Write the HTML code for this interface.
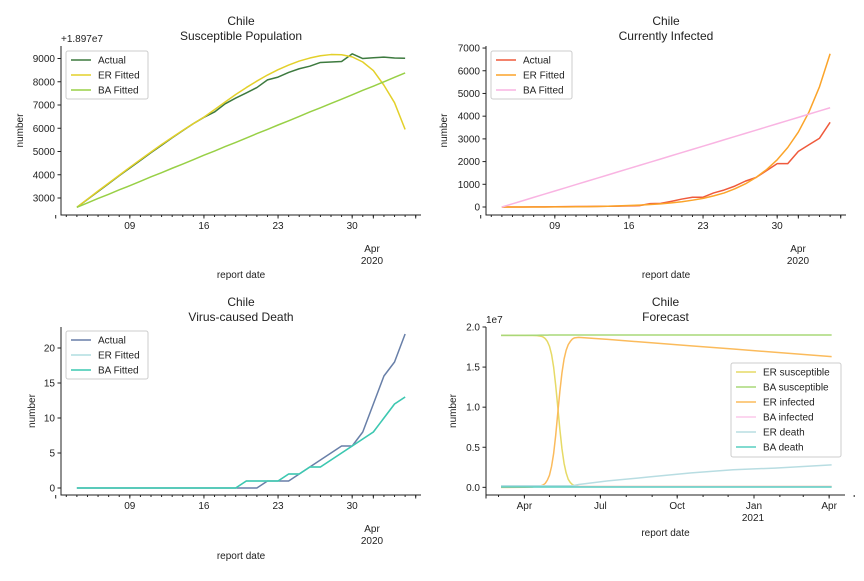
<!DOCTYPE html>
<html><head><meta charset="utf-8"><style>
body{margin:0;background:#fff}
svg text{font-family:"Liberation Sans","DejaVu Sans",sans-serif;fill:#222}
</style></head><body>
<svg id="fig" width="864" height="576" xmlns="http://www.w3.org/2000/svg"></svg>
<script>
// ---- data ----
const dayLabels = ["09","16","23","30"];
const susActual = [2600,2940,3280,3620,3960,4290,4620,4950,5270,5590,5900,6200,6470,6700,7050,7300,7520,7750,8080,8200,8400,8560,8670,8830,8850,8870,9200,9000,9030,9060,9020,9010];
const susER = [2600,2950,3300,3640,3980,4320,4650,4980,5300,5610,5910,6200,6480,6800,7130,7450,7750,8030,8290,8520,8720,8890,9020,9120,9170,9160,9070,8850,8480,7850,7100,5950];
const susBA = [2600,2790,2980,3160,3350,3530,3720,3910,4090,4280,4460,4650,4840,5020,5210,5390,5580,5770,5950,6140,6320,6510,6700,6880,7070,7250,7440,7630,7810,8000,8190,8380];
const infActual = [0,1,2,4,6,10,15,20,25,30,35,40,50,60,150,160,250,350,430,430,620,750,920,1140,1300,1600,1910,1910,2450,2740,3030,3730];
const infER = [0,0,1,2,3,5,8,12,17,25,35,50,65,85,110,140,180,230,300,380,490,620,800,1020,1300,1650,2080,2620,3300,4180,5300,6750];
const infBA = [0,141,282,423,564,705,846,987,1128,1269,1410,1551,1692,1833,1974,2115,2256,2397,2538,2679,2820,2961,3102,3243,3384,3525,3666,3807,3948,4089,4230,4370];
const deathActual = [0,0,0,0,0,0,0,0,0,0,0,0,0,0,0,0,0,0,1,1,1,2,3,4,5,6,6,8,12,16,18,22];
const deathER = [0,0,0,0,0,0,0,0,0,0,0,0,0,0,0,0,1,1,1,1,2,2,3,3,4,5,6,7,8,10,12,13];
const deathBA = [0,0,0,0,0,0,0,0,0,0,0,0,0,0,0,0,1,1,1,1,2,2,3,3,4,5,6,7,8,10,12,13];
// forecast: days relative to 2020-04-01, values in 1e7
const fcDays = [-28,0,10,15,20,22.5,25,27.5,30,32.5,35,37.5,40,42.5,45,47.5,50,52.5,55,57.5,60,65,100,150,200,250,300,368];
const fcERsus = [1.895,1.895,1.894,1.892,1.885,1.875,1.855,1.82,1.76,1.66,1.5,1.27,1.0,0.72,0.48,0.3,0.18,0.1,0.06,0.035,0.02,0.012,0.01,0.01,0.01,0.01,0.01,0.01];
const fcBAsus = [1.895,1.896,1.897,1.897,1.898,1.898,1.899,1.899,1.9,1.9,1.9,1.9,1.9,1.9,1.9,1.9,1.9,1.9,1.9,1.9,1.9,1.9,1.9,1.9,1.9,1.9,1.9,1.9];
const fcERinf = [0,0.001,0.005,0.01,0.02,0.03,0.05,0.09,0.15,0.26,0.42,0.65,0.93,1.2,1.43,1.6,1.71,1.78,1.82,1.85,1.865,1.87,1.845,1.805,1.765,1.725,1.685,1.63];
const fcBAinf = [0.01,0.01,0.01,0.01,0.01,0.01,0.01,0.01,0.01,0.01,0.01,0.01,0.01,0.01,0.01,0.01,0.01,0.01,0.01,0.01,0.01,0.01,0.01,0.01,0.01,0.01,0.01,0.01];
const fcERdeath = [0.02,0.02,0.02,0.02,0.02,0.02,0.02,0.02,0.02,0.02,0.02,0.02,0.02,0.02,0.02,0.02,0.02,0.02,0.02,0.022,0.025,0.035,0.08,0.13,0.18,0.22,0.24,0.28];
const fcBAdeath = [0.005,0.005,0.005,0.005,0.005,0.005,0.005,0.005,0.005,0.005,0.005,0.005,0.005,0.005,0.005,0.005,0.005,0.005,0.005,0.005,0.005,0.005,0.005,0.005,0.005,0.005,0.005,0.005];
const fcTickLabels = ["Apr","Jul","Oct","Jan","Apr"];
const fcTickDays = [0,91,183,275,365];

const svg=document.getElementById('fig');
const NS='http://www.w3.org/2000/svg';
function mk(tag,attrs,parent){const e=document.createElementNS(NS,tag);for(const k in attrs)e.setAttribute(k,attrs[k]);(parent||svg).appendChild(e);return e;}
function txt(s,x,y,size,anchor,parent){const t=mk('text',{x:x,y:y,'font-size':size,'text-anchor':anchor||'middle'},parent);t.textContent=s;return t;}

function panel(P){
  const g=mk('g',{});
  
  
  const sx=v=>P.x0+(v-P.xmin)/(P.xmax-P.xmin)*(P.x1-P.x0);
  const sy=v=>P.yb+(v-P.ymin)/(P.ymax-P.ymin)*(P.yt-P.yb);
  const ax=mk('path',{d:`M${P.x0},${P.yt}V${P.yb}H${P.x1}`,stroke:'#222',fill:'none','stroke-width':1},g);
  
  P.yticks.forEach((v,i)=>{const y=sy(v);mk('line',{x1:P.x0-3.5,x2:P.x0,y1:y,y2:y,stroke:'#222'},g);
    const t=txt(P.ylabels[i],P.x0-6,y+3.5,10,'end',g);});
  P.xminor.forEach(v=>{const x=sx(v);mk('line',{x1:x,x2:x,y1:P.yb,y2:P.yb+2,stroke:'#222'},g);});
  P.xmajor.forEach(v=>{const x=sx(v);mk('line',{x1:x,x2:x,y1:P.yb,y2:P.yb+3.5,stroke:'#222'},g);});
  P.xlabels.forEach((s,i)=>{const t=txt(s,sx(P.xlabelPos[i]),P.yb+14,10,'middle',g);});
  P.series.forEach(s=>{
    let d='';s.y.forEach((v,i)=>{d+=(i?'L':'M')+sx(s.x[i]).toFixed(2)+','+sy(v).toFixed(2);});
    const p=mk('path',{d:d,stroke:s.color,fill:'none','stroke-width':1.5,'stroke-linejoin':'round'},g);
    
    
  });
  txt('Chile',(P.x0+P.x1)/2,P.yt-21,12,'middle',g);
  const tt=txt(P.title,(P.x0+P.x1)/2,P.yt-6,12,'middle',g);
  const yl=mk('text',{x:0,y:0,'font-size':10,'text-anchor':'middle',transform:`translate(${P.ylx},${(P.yt+P.yb)/2}) rotate(-90)`},g);yl.textContent='number';
  
  const xl=txt('report date',(P.x0+P.x1)/2,P.xly,10,'middle',g);
  if(P.offset){const o=txt(P.offset,P.x0,P.yt-4,10,'start',g);}
  if(P.year){const a=txt('Apr',P.year[0],P.year[1],10,'middle',g);const b=txt('2020',P.year[0],P.year[1]+12,10,'middle',g);}
  const L=P.legend;
  const lg=mk('g',{},g);
  mk('rect',{x:L.x,y:L.y,width:L.w,height:L.h,rx:2,fill:'#fff','fill-opacity':0.85,stroke:'#ccc'},lg);
  P.series.forEach((s,i)=>{const y=L.y+9+i*15;
    mk('line',{x1:L.x+5,x2:L.x+25,y1:y,y2:y,stroke:s.color,'stroke-width':1.5},lg);
    const t=txt(s.label,L.x+32,y+3.5,10,'start',lg);});
}
const days=susActual.map((_,i)=>i+4);
const minorDays=[];for(let d=3;d<=36;d++)minorDays.push(d);
const majorDays=[2,9,16,23,30,32,36];
const dayPos=[9,16,23,30];
function rng(a,b,s){const r=[];for(let v=a;v<=b+1e-9;v+=s)r.push(+v.toFixed(3));return r;}

panel({name:'susceptible-panel',title:'Susceptible Population',x0:61,x1:421,yt:46,yb:215,xmin:2.5,xmax:36.5,ymin:2269,ymax:9538,
 yticks:rng(3000,9000,1000),ylabels:rng(3000,9000,1000).map(String),xminor:minorDays,xmajor:majorDays,xlabels:dayLabels,xlabelPos:dayPos,
 ylx:23,xly:278,offset:'+1.897e7',year:[372,252],legend:{x:66,y:51,w:82,h:48},
 series:[{id:'line-actual',label:'Actual',color:'#3d7a3f',x:days,y:susActual},{id:'line-er-fitted',label:'ER Fitted',color:'#e3d02a',x:days,y:susER},{id:'line-ba-fitted',label:'BA Fitted',color:'#98d046',x:days,y:susBA}]});

panel({name:'infected-panel',title:'Currently Infected',x0:486,x1:846,yt:46,yb:215,xmin:2.5,xmax:36.5,ymin:-352,ymax:7090,
 yticks:rng(0,7000,1000),ylabels:rng(0,7000,1000).map(String),xminor:minorDays,xmajor:majorDays,xlabels:dayLabels,xlabelPos:dayPos,
 ylx:447,xly:278,year:[798,252],legend:{x:491,y:51,w:81,h:48},
 series:[{id:'line-actual',label:'Actual',color:'#ef5a3c',x:days,y:infActual},{id:'line-er-fitted',label:'ER Fitted',color:'#fba42a',x:days,y:infER},{id:'line-ba-fitted',label:'BA Fitted',color:'#f9b4e2',x:days,y:infBA}]});

panel({name:'death-panel',title:'Virus-caused Death',x0:61,x1:421,yt:327,yb:495,xmin:2.5,xmax:36.5,ymin:-1,ymax:23,
 yticks:[0,5,10,15,20],ylabels:['0','5','10','15','20'],xminor:minorDays,xmajor:majorDays,xlabels:dayLabels,xlabelPos:dayPos,
 ylx:35,xly:559,year:[372,532],legend:{x:66,y:331,w:82,h:48},
 series:[{id:'line-actual',label:'Actual',color:'#687fa8',x:days,y:deathActual},{id:'line-er-fitted',label:'ER Fitted',color:'#b0dde0',x:days,y:deathER},{id:'line-ba-fitted',label:'BA Fitted',color:'#3cc8b0',x:days,y:deathBA}]});

const fcMinor=[-31,0,30,61,91,122,153,183,214,244,275,306,334,365,395];
panel({name:'forecast-panel',title:'Forecast',x0:486,x1:845,yt:327,yb:495,xmin:-46,xmax:384,ymin:-0.0955,ymax:2.0,
 yticks:[0,0.5,1,1.5,2],ylabels:['0.0','0.5','1.0','1.5','2.0'],xminor:fcMinor,xmajor:[-46].concat(fcTickDays),xlabels:fcTickLabels,xlabelPos:fcTickDays,
 ylx:456,xly:536,offset:'1e7',legend:{x:731,y:363,w:110,h:94},
 series:[{id:'line-er-susceptible',label:'ER susceptible',color:'#e6da66',x:fcDays,y:fcERsus},
 {id:'line-ba-susceptible',label:'BA susceptible',color:'#a8d878',x:fcDays,y:fcBAsus},
 {id:'line-er-infected',label:'ER infected',color:'#fbbb5c',x:fcDays,y:fcERinf},
 {id:'line-ba-infected',label:'BA infected',color:'#fcc8ea',x:fcDays,y:fcBAinf},
 {id:'line-er-death',label:'ER death',color:'#b8dde2',x:fcDays,y:fcERdeath},
 {id:'line-ba-death',label:'BA death',color:'#58cfc0',x:fcDays,y:fcBAdeath}]});
const y21=txt('2021',753,521,10,'middle');


</script>
</body></html>
